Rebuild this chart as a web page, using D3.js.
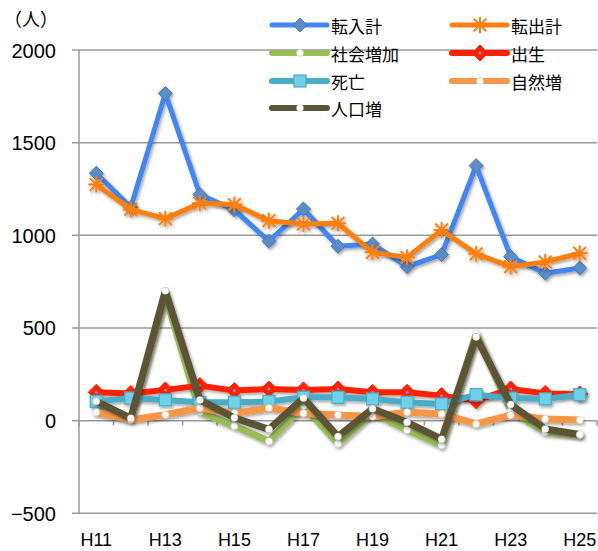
<!DOCTYPE html>
<html>
<head>
<meta charset="utf-8">
<script src="https://cdn.jsdelivr.net/npm/d3@7"></script>
<style>
  body { margin: 0; background: #fff; }
  svg { display: block; font-family: "Noto Sans CJK JP", "Liberation Sans", sans-serif; }
  .num { font-family: "Liberation Sans", Arial, sans-serif; }
</style>
</head>
<body>
<div id="chart"></div>
<script>
// data
let years = ["H11","H12","H13","H14","H15","H16","H17","H18","H19","H20","H21","H22","H23","H24","H25"];
let tenNyu   = [1335, 1151, 1766, 1220, 1137, 968, 1142, 941, 953, 831, 896, 1376, 885, 795, 824];
let tenShutsu= [1274, 1140, 1090, 1173, 1166, 1079, 1061, 1065, 908, 881, 1029, 900, 831, 856, 903];
let shakai   = [61, 11, 676, 47, -29, -111, 81, -124, 45, -50, -133, 470, 54, -61, -79];
let shussei  = [153, 147, 166, 189, 162, 171, 166, 171, 153, 153, 135, 108, 171, 147, 144];
let shibou   = [104, 122, 112, 99, 99, 103, 126, 126, 117, 99, 90, 140, 122, 117, 140];
let shizen   = [45, 4, 32, 68, 40, 68, 40, 31, 22, 45, 36, -18, 30, 9, 4];
let jinkou   = [104, 13, 701, 112, 15, -47, 122, -86, 64, -9, -100, 452, 87, -45, -75];
let yTicks = [-500, 0, 500, 1000, 1500, 2000];

let series = [
  {name:"転入計", values:tenNyu, color:"#4285f4", width:5, marker:"diamond", mfill:"#5a8cc6", mstroke:"#4a78ad", msize:7},
  {name:"転出計", values:tenShutsu, color:"#ff7f0e", width:5, marker:"star", mfill:"none", mstroke:"#ff7f0e", msize:8},
  {name:"社会増加", values:shakai, color:"#9bbb59", width:7, marker:"dot", mfill:"#fff", mstroke:"#fff", msize:3.5},
  {name:"出生", values:shussei, color:"#ff2200", width:6, marker:"diamond", mfill:"#ff2200", mstroke:"#ff2200", msize:8},
  {name:"死亡", values:shibou, color:"#4bacc6", width:6, marker:"square", mfill:"#6fd0ea", mstroke:"#4bacc6", msize:6},
  {name:"自然増", values:shizen, color:"#f79646", width:7, marker:"dot", mfill:"#fff", mstroke:"#fff", msize:3.5},
  {name:"人口増", values:jinkou, color:"#5b5436", width:7, marker:"dot", mfill:"#fff", mstroke:"#fff", msize:3.5}
];

let width = 598, height = 551;
let svg = d3.select("#chart").append("svg")
  .attr("width", width).attr("height", height);

let defs = svg.append("defs");
defs.append("filter").attr("id","shadow")
  .attr("x","-10%").attr("y","-10%").attr("width","130%").attr("height","130%")
  .append("feDropShadow")
  .attr("dx",1.5).attr("dy",2).attr("stdDeviation",1.5)
  .attr("flood-color","#000").attr("flood-opacity",0.35);

let x = d3.scaleBand().domain(years).range([79, 597]);
let y = d3.scaleLinear().domain([-500, 2000]).range([513.3, 50]);
let cx = d => x(d) + x.bandwidth()/2;

// gridlines
svg.append("g").selectAll("line").data(yTicks).join("line")
  .attr("x1", 72).attr("x2", 597)
  .attr("y1", d => y(d)).attr("y2", d => y(d))
  .attr("stroke", "#999").attr("stroke-width", 1.5);

// y axis line
svg.append("line")
  .attr("x1", 79).attr("x2", 79).attr("y1", y(2000)).attr("y2", y(-500))
  .attr("stroke", "#999").attr("stroke-width", 1.5);

// category ticks on the zero line
svg.append("g").selectAll("line").data(d3.range(years.length + 1)).join("line")
  .attr("x1", i => 79 + i*x.bandwidth()).attr("x2", i => 79 + i*x.bandwidth())
  .attr("y1", y(0)).attr("y2", y(0) + 5)
  .attr("stroke", "#999").attr("stroke-width", 1.5);

// y labels
svg.append("g").selectAll("text").data(yTicks).join("text")
  .attr("class", "num")
  .attr("x", 56).attr("y", d => y(d) + 7.5)
  .attr("text-anchor", "end")
  .style("font-size", "20px").attr("fill", "#000")
  .text(d => d < 0 ? "\u2212" + Math.abs(d) : d);

svg.append("text").attr("x", 4).attr("y", 26)
  .style("font-size", "18px").text("（人）");

// x labels, every other year
svg.append("g").selectAll("text").data(years.filter((d,i) => i % 2 == 0)).join("text")
  .attr("class", "num")
  .attr("x", d => cx(d)).attr("y", 546)
  .attr("text-anchor", "middle")
  .style("font-size", "18px")
  .text(d => d);

function drawMarker(g, s, px, py) {
  let r = s.msize;
  if (s.marker == "diamond") {
    g.append("path")
      .attr("d", `M${px},${py-r}L${px+r},${py}L${px},${py+r}L${px-r},${py}Z`)
      .attr("fill", s.mfill).attr("stroke", s.mstroke).attr("stroke-width", 1);
    if (s.name == "出生") {
      g.append("circle").attr("cx", px).attr("cy", py).attr("r", 1.5).attr("fill", "#9b7fd1");
    }
  } else if (s.marker == "star") {
    g.append("path")
      .attr("d", `M${px},${py-r}L${px},${py+r}M${px-r*0.8},${py-r*0.8}L${px+r*0.8},${py+r*0.8}M${px-r*0.8},${py+r*0.8}L${px+r*0.8},${py-r*0.8}M${px-r},${py}L${px+r},${py}`)
      .attr("fill", "none").attr("stroke", s.mstroke).attr("stroke-width", 2);
  } else if (s.marker == "square") {
    g.append("rect").attr("x", px-r).attr("y", py-r).attr("width", 2*r).attr("height", 2*r)
      .attr("fill", s.mfill).attr("stroke", s.mstroke).attr("stroke-width", 1.2);
  } else {
    g.append("circle").attr("cx", px).attr("cy", py).attr("r", r)
      .attr("fill", s.mfill).attr("stroke", "#ccc").attr("stroke-width", 0.5);
  }
}

let line = d3.line().x((d,i) => cx(years[i])).y(d => y(d));

series.forEach(s => {
  let g = svg.append("g").attr("filter", "url(#shadow)");
  g.append("path").datum(s.values)
    .attr("d", line)
    .attr("fill", "none").attr("stroke", s.color)
    .attr("stroke-width", s.width).attr("stroke-linejoin", "round");
  s.values.forEach((v,i) => drawMarker(g, s, cx(years[i]), y(v)));
});

// legend
let legendPos = [[272,25],[452,25],[272,53],[452,53],[272,81],[452,81],[272,108]];
series.forEach((s,i) => {
  let [lx, ly] = legendPos[i];
  let g = svg.append("g");
  g.append("line").attr("x1", lx).attr("x2", lx+55).attr("y1", ly).attr("y2", ly)
    .attr("stroke", s.color).attr("stroke-width", s.width >= 6 ? 6 : 5).attr("stroke-linecap", "round");
  drawMarker(g, s, lx + 28, ly);
  g.append("text").attr("x", lx + 59).attr("y", ly).attr("dominant-baseline", "central")
    .style("font-size", "17px").text(s.name);
});
</script>
</body>
</html>
